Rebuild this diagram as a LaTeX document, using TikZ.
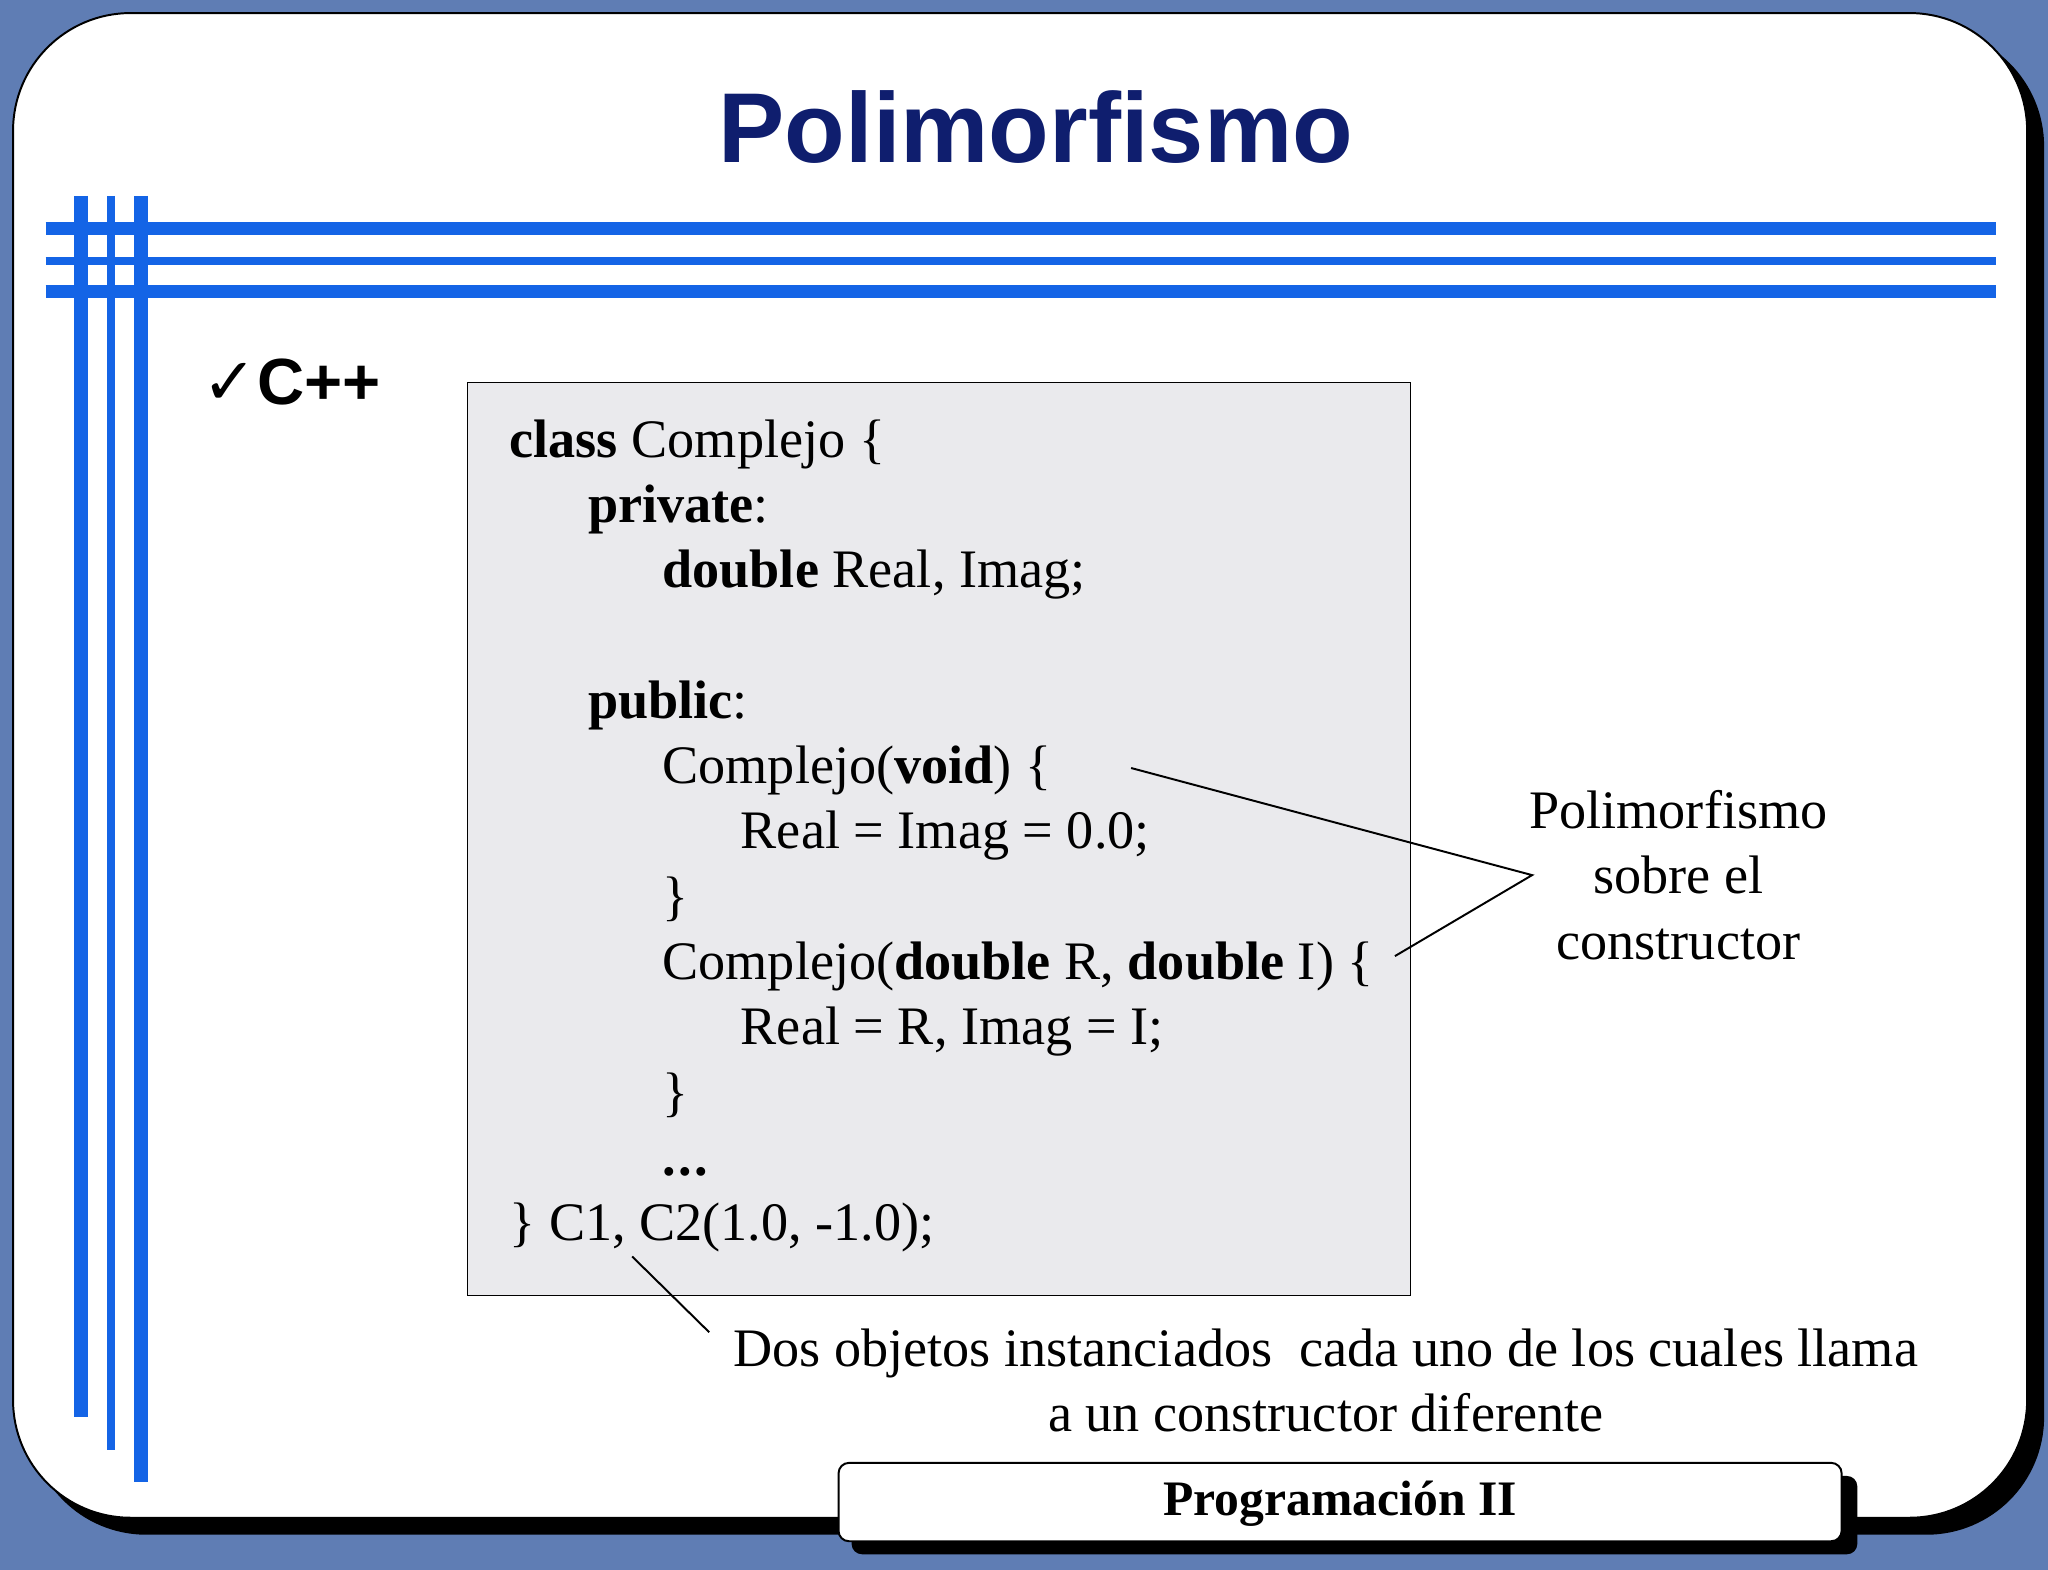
\documentclass[tikz,border=0pt]{standalone}
\usepackage{fontspec}
\setmainfont{Liberation Serif}
\setsansfont{Liberation Sans}
\newfontfamily\djv{DejaVu Sans}
\definecolor{bgblue}{RGB}{95,125,180}
\definecolor{lineblue}{RGB}{20,100,230}
\definecolor{navy}{RGB}{15,30,110}
\definecolor{codegray}{RGB}{234,234,237}
\tikzset{code/.style={anchor=base west,inner sep=0pt,font=\fontsize{41.5}{44}\selectfont},
lbl/.style={inner sep=0pt,font=\fontsize{41.5}{50}\selectfont},
hl/.style={lineblue,line width=#1}}
\begin{document}
\begin{tikzpicture}[x=1pt,y=-1pt]
\fill[bgblue] (0,0) rectangle (1568,1202);
\useasboundingbox (0,0) rectangle (1568,1202);
\fill[black] (22,22) [rounded corners=90] rectangle (1565,1175);
\fill[white,draw=black,line width=1.5] (10,10) [rounded corners=90] rectangle (1552,1162);
% lines
\draw[hl=10] (35,175) -- (1528,175);
\draw[hl=6] (35,200) -- (1528,200);
\draw[hl=10] (35,223) -- (1528,223);
\draw[hl=11] (62,150) -- (62,1085);
\draw[hl=6] (85,150) -- (85,1110);
\draw[hl=11] (108,150) -- (108,1135);
\node[font=\sffamily\bfseries\fontsize{76}{80}\selectfont,text=navy] (title) at (793,97) {Polimorfismo};
\node[anchor=base west,inner sep=0pt] (cpp) at (155,310) {{\djv\fontsize{50}{50}\selectfont ✓}{\sffamily\bfseries\fontsize{50}{50}\selectfont C++}};
\draw[fill=codegray,line width=1.2] (358,293) rectangle (1080,992);
\node[code] (l1) at (390,350) {\textbf{class} Complejo \{};
\node[code] (l2) at (450,400) {\textbf{private}:};
\node[code] (l3) at (507,450) {\textbf{double} Real, Imag;};
\node[code] (l4) at (450,550) {\textbf{public}:};
\node[code] (l5) at (507,600) {Complejo(\textbf{void}) \{};
\node[code] (l6) at (567,650) {Real = Imag = 0.0;};
\node[code] (l7) at (507,700) {\}};
\node[code] (l8) at (507,750) {Complejo(\textbf{double} R, \textbf{double} I) \{};
\node[code] (l9) at (567,800) {Real = R, Imag = I;};
\node[code] (l10) at (507,850) {\}};
\node[code] (l11) at (507,900) {\textbf{.\kern2pt.\kern2pt.}};
\node[code] (l12) at (390,950) {\} C1, C2(1.0, -1.0);};
\node[lbl,align=center] (poly) at (1285,670) {Polimorfismo\\sobre el\\constructor};
\coordinate (pj) at (1173,670);
\coordinate (pa) at (866,588);
\coordinate (pb) at (1068,732);
\draw[line width=1.5] (pa) -- (pj) -- (pb);
\node[lbl,align=center] (dos) at (1015,1057) {Dos objetos instanciados\ \ cada uno de los cuales llama\\a un constructor diferente};
\coordinate (da) at (484,962);
\coordinate (db) at (543,1020);
\draw[line width=1.5] (da) -- (db);
\fill[black] (652,1130) [rounded corners=8] rectangle (1422,1190);
\draw[fill=white,line width=1.5] (642,1120) [rounded corners=8] rectangle (1410,1180);
\node[font=\bfseries\fontsize{38}{40}\selectfont] (foot) at (1026,1151) {Programación II};
\end{tikzpicture}
\end{document}
